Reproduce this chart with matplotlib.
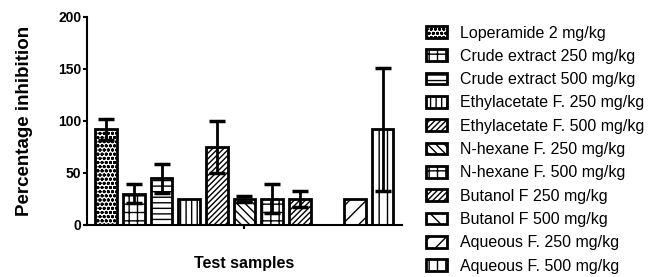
#!/usr/bin/env python3
"""Percentage inhibition by test sample, GraphPad-style hatched bars."""
import matplotlib
matplotlib.use('Agg')
import matplotlib.pyplot as plt
import numpy as np

plt.rcParams['font.family'] = ['Liberation Sans', 'DejaVu Sans']
plt.rcParams['hatch.linewidth'] = 1.0

samples = ['Loperamide 2 mg/kg', 'Crude extract 250 mg/kg', 'Crude extract 500 mg/kg',
           'Ethylacetate F. 250 mg/kg', 'Ethylacetate F. 500 mg/kg',
           'N-hexane F. 250 mg/kg', 'N-hexane F. 500 mg/kg',
           'Butanol F 250 mg/kg', 'Butanol F 500 mg/kg',
           'Aqueous F. 250 mg/kg', 'Aqueous F. 500 mg/kg']
inhibition = [92, 30, 45, 25, 75, 25, 25, 25, 0, 25, 92]
sem = [10, 9, 14, 0, 25, 3, 14, 8, 0, 0, 59]

hatches = ['oooo', '++', '---', '|||', '//////', '\\\\\\\\', '++', '//////', '\\\\', '//', '||']

fig = plt.figure(figsize=(6.58, 2.77), dpi=100)
ax = fig.add_axes([0.132, 0.188, 0.479, 0.751])

x = np.arange(len(samples))
handles = []
for i in range(len(samples)):
    b = ax.bar(x[i], inhibition[i], width=0.78, color='white', edgecolor='black',
               linewidth=2, hatch=hatches[i], label=samples[i], zorder=2)
    handles.append(b)
    if sem[i] > 0:
        ax.errorbar(x[i], inhibition[i], yerr=sem[i], fmt='none', ecolor='black',
                    elinewidth=2, capsize=5.5, capthick=2.5, zorder=3)

ax.set_xlim(-0.7, len(samples) - 0.3)
ax.set_ylim(0, 200)
ax.set_yticks([0, 50, 100, 150, 200])
ax.set_xticks([5])
ax.set_xticklabels([''])
ax.spines['top'].set_visible(False)
ax.spines['right'].set_visible(False)
ax.spines['left'].set_linewidth(1.5)
ax.spines['bottom'].set_linewidth(1.5)
ax.tick_params(axis='both', width=1.5, length=3, pad=1)
for lab in ax.get_yticklabels():
    lab.set_fontweight('bold')
    lab.set_fontsize(10)

ax.set_ylabel('Percentage inhibition', fontsize=13.5, fontweight='bold')
ax.yaxis.set_label_coords(-0.17, 0.5)
ax.set_xlabel('Test samples', fontsize=11.5, fontweight='bold')
ax.xaxis.set_label_coords(0.5, -0.15)

fig.legend(handles=handles, labels=samples, loc='upper left',
           bbox_to_anchor=(0.638, 0.931), frameon=False, fontsize=11.5,
           handlelength=1.3, handleheight=0.75, labelspacing=0.52, handletextpad=0.8,
           borderaxespad=0)

fig.savefig('out.png', dpi=100)
